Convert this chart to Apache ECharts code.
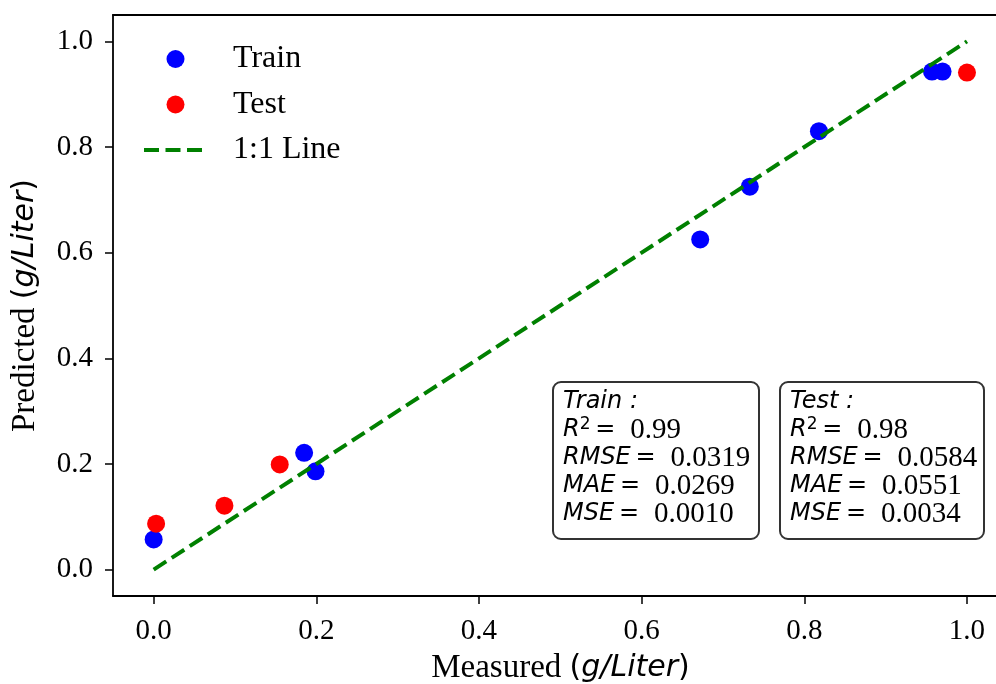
<!DOCTYPE html>
<html><head><meta charset="utf-8">
<script src="https://cdn.jsdelivr.net/npm/echarts@6/dist/echarts.min.js"></script>
<style>html,body{margin:0;padding:0;background:#fff}#c{width:996px;height:684px}</style>
</head><body><div id="c"></div>
<script>
const trainMeasured  = [0.000, 0.185, 0.199, 0.672, 0.733, 0.818, 0.957, 0.970];
const trainPredicted = [0.057, 0.221, 0.186, 0.625, 0.725, 0.830, 0.943, 0.943];
const testMeasured   = [0.003, 0.087, 0.155, 1.000];
const testPredicted  = [0.087, 0.121, 0.199, 0.941];
const lineX = [0, 1];
const lineY = [0, 1];
const tickValues = [0, 0.2, 0.4, 0.6, 0.8, 1.0];
const statNames = ['R', 'RMSE', 'MAE', 'MSE'];
const trainStats = ['0.99', '0.0319', '0.0269', '0.0010'];
const testStats  = ['0.98', '0.0584', '0.0551', '0.0034'];

const serif = 'Liberation Serif';
const mathF = 'DejaVu Sans';

function pairs(xs, ys) { return xs.map((x, i) => [x, ys[i]]); }

const nameRich = {
  a: {fontFamily: serif, fontSize: 33, color: '#000'},
  p: {fontFamily: mathF, fontSize: 30, color: '#000'},
  b: {fontFamily: mathF, fontStyle: 'italic', fontSize: 30, color: '#000'}
};

function boxText(title, stats) {
  const lines = ['{m|' + title + ' :}'];
  statNames.forEach((n, i) => {
    if (i === 0) lines.push('{m|R}{s|2}{m|\u2009= }{n| ' + stats[i] + '}');
    else lines.push('{m|' + n + '\u2009= }{n| ' + stats[i] + '}');
  });
  return lines.join('\n');
}
const boxRich = {
  m: {fontFamily: mathF, fontStyle: 'italic', fontSize: 24, lineHeight: 28, fill: '#000'},
  s: {fontFamily: mathF, fontSize: 17, lineHeight: 17, verticalAlign: 'top', fill: '#000'},
  n: {fontFamily: serif, fontSize: 29, lineHeight: 28, fill: '#000'}
};
function makeBox(x, y, w, h, title, stats) {
  return {
    type: 'group', left: x, top: y,
    children: [
      {type: 'rect', shape: {x: 0, y: 0, width: w, height: h, r: 8},
       style: {fill: '#fff', stroke: '#333', lineWidth: 2}},
      {type: 'text', x: 10, y: 6,
       style: {text: boxText(title, stats), rich: boxRich, fill: '#000'}}
    ]
  };
}

const axisLineStyle = {color: '#000', width: 1.8};
const chart = echarts.init(document.getElementById('c'), null, {renderer: 'canvas'});
chart.setOption({
  animation: false,
  backgroundColor: '#fff',
  grid: {left: 113, top: 15, right: 0, bottom: 88, show: false, containLabel: false, outerBoundsMode: 'none'},
  xAxis: [{
    type: 'value', min: -0.05, max: 1.0357, position: 'bottom',
    splitLine: {show: false},
    axisLine: {show: true, onZero: false, lineStyle: axisLineStyle},
    axisTick: {show: true, length: 8, customValues: tickValues, lineStyle: {color: '#000', width: 1.5}},
    axisLabel: {customValues: tickValues, formatter: v => v.toFixed(1),
                fontFamily: serif, fontSize: 29, color: '#000', margin: 21},
    name: '{a|Measured }{p|(}{b|g/Liter}{p|)}', nameLocation: 'middle', nameGap: 56,
    nameTextStyle: {rich: nameRich, padding: [0, 0, 0, 12]}
  }, {
    type: 'value', min: -0.05, max: 1.0357, position: 'top',
    splitLine: {show: false},
    axisLine: {show: true, onZero: false, lineStyle: axisLineStyle},
    axisTick: {show: false}, axisLabel: {show: false}
  }],
  yAxis: {
    type: 'value', min: -0.05, max: 1.05,
    splitLine: {show: false},
    axisLine: {show: true, onZero: false, lineStyle: axisLineStyle},
    axisTick: {show: true, length: 8, customValues: tickValues, lineStyle: {color: '#000', width: 1.5}},
    axisLabel: {customValues: tickValues, formatter: v => v.toFixed(1),
                fontFamily: serif, fontSize: 29, color: '#000', margin: 20},
    name: '{a|Predicted }{p|(}{b|g/Liter}{p|)}', nameLocation: 'middle', nameGap: 71,
    nameTextStyle: {rich: nameRich}
  },
  legend: {
    orient: 'vertical', left: 137, top: 38,
    itemWidth: 63, itemHeight: 18, itemGap: 13.5,
    textStyle: {fontFamily: serif, fontSize: 32, color: '#000', padding: [0, 0, 0, 21]},
    data: [
      {name: 'Train'},
      {name: 'Test'},
      {name: '1:1 Line', itemStyle: {color: 'rgba(0,0,0,0)', opacity: 0},
       lineStyle: {color: '#008000', width: 4, type: [15, 6.5]}}
    ]
  },
  series: [
    {name: 'Train', type: 'scatter', data: pairs(trainMeasured, trainPredicted),
     symbol: 'circle', symbolSize: 18, itemStyle: {color: '#0000ff', opacity: 1}, z: 2},
    {name: 'Test', type: 'scatter', data: pairs(testMeasured, testPredicted),
     symbol: 'circle', symbolSize: 18, itemStyle: {color: '#ff0000', opacity: 1}, z: 2},
    {name: '1:1 Line', type: 'line', data: pairs(lineX, lineY), symbol: 'none',
     lineStyle: {color: '#008000', width: 4, type: [15, 6.5]}, itemStyle: {color: '#008000'}, z: 5}
  ],
  graphic: [
    makeBox(552, 381, 206, 157, 'Train', trainStats),
    makeBox(779, 381, 204, 157, 'Test', testStats)
  ]
});
</script></body></html>
